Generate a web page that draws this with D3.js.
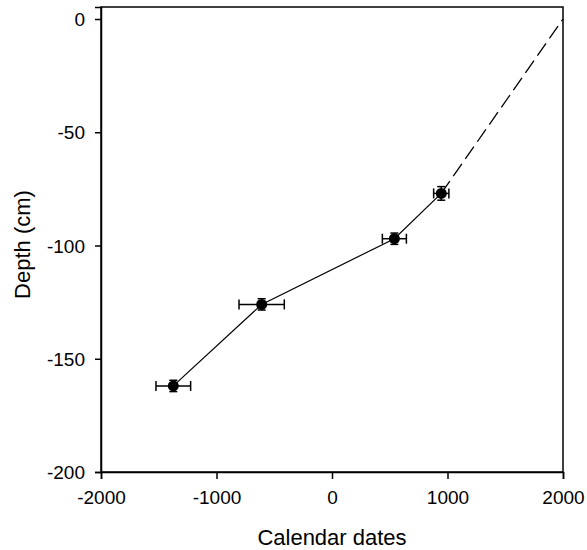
<!DOCTYPE html>
<html><head><meta charset="utf-8">
<script src="https://cdn.jsdelivr.net/npm/d3@7"></script>
<style>body{margin:0;background:#fff}svg{display:block}text{font-family:"Liberation Sans",Arial,sans-serif;fill:#000}</style>
</head><body>
<script>
const dates = [-1374, -609, 540, 946];
const depths = [-162, -126, -97, -77];
const dateErr = [150, 196, 104, 66];
const depthErr = [2.5, 2.5, 2.5, 3];
const extrapDates = [946, 2000];
const extrapDepths = [-77, 0];
const xTicks = [-2000, -1000, 0, 1000, 2000];
const yTicks = [0, -50, -100, -150, -200];

const W = 587, H = 550;
const m = {l: 101, r: 24, t: 7, b: 78};
const svg = d3.select("body").append("svg").attr("width", W).attr("height", H);
const x = d3.scaleLinear().domain([-2000, 2000]).range([m.l, W - m.r]);
const y = d3.scaleLinear().domain([-200, 5.3]).range([H - m.b, m.t]);
const fmt = d => String(d);

svg.append("rect").attr("x", x(-2000)).attr("y", y(5.3)).attr("width", x(2000) - x(-2000)).attr("height", y(-200) - y(5.3))
  .attr("fill", "none").attr("stroke", "#000").attr("stroke-width", 1.5);

const xa = svg.append("g").attr("transform", `translate(0,${y(-200)})`)
  .call(d3.axisBottom(x).tickValues(xTicks).tickSize(7).tickPadding(11).tickFormat(fmt));
const ya = svg.append("g").attr("transform", `translate(${x(-2000)},0)`)
  .call(d3.axisLeft(y).tickValues(yTicks).tickSize(6).tickPadding(10).tickFormat(fmt));
[xa, ya].forEach(a => {
  a.select(".domain").attr("stroke-width", 1.5);
  a.selectAll(".tick line").attr("stroke-width", 1.5);
  a.selectAll("text").style("font-size", "19px").style("font-family", "Liberation Sans, Arial, sans-serif");
});
xa.selectAll(".tick text").attr("dy", "0.72em");
ya.selectAll(".tick text").attr("dy", "0.35em");

svg.append("text").attr("x", x(0)).attr("y", 545).attr("text-anchor", "middle").style("font-size", "22px").text("Calendar dates");
svg.append("text").attr("transform", `translate(30,${(y(5.3) + y(-200)) / 2 + 5}) rotate(-90)`).attr("text-anchor", "middle")
  .style("font-size", "22px").text("Depth (cm)");

const pts = dates.map((d, i) => ({x: d, y: depths[i], ex: dateErr[i], ey: depthErr[i]}));
const line = d3.line().x(d => x(d.x)).y(d => y(d.y));
svg.append("path").datum(pts).attr("d", line).attr("fill", "none").attr("stroke", "#000").attr("stroke-width", 1.2);
svg.append("path").datum(extrapDates.map((d, i) => ({x: d, y: extrapDepths[i]}))).attr("d", line)
  .attr("fill", "none").attr("stroke", "#000").attr("stroke-width", 1.3).attr("stroke-dasharray", "15,6");

const g = svg.append("g").attr("stroke", "#000").attr("stroke-width", 1.5);
pts.forEach(p => {
  const cx = x(p.x), cy = y(p.y);
  g.append("line").attr("x1", x(p.x - p.ex)).attr("x2", x(p.x + p.ex)).attr("y1", cy).attr("y2", cy);
  g.append("line").attr("x1", x(p.x - p.ex)).attr("x2", x(p.x - p.ex)).attr("y1", cy - 5).attr("y2", cy + 5);
  g.append("line").attr("x1", x(p.x + p.ex)).attr("x2", x(p.x + p.ex)).attr("y1", cy - 5).attr("y2", cy + 5);
  g.append("line").attr("x1", cx).attr("x2", cx).attr("y1", y(p.y - p.ey)).attr("y2", y(p.y + p.ey));
  g.append("line").attr("x1", cx - 4).attr("x2", cx + 4).attr("y1", y(p.y - p.ey)).attr("y2", y(p.y - p.ey));
  g.append("line").attr("x1", cx - 4).attr("x2", cx + 4).attr("y1", y(p.y + p.ey)).attr("y2", y(p.y + p.ey));
});
svg.append("g").selectAll("circle").data(pts).join("circle")
  .attr("cx", d => x(d.x)).attr("cy", d => y(d.y)).attr("r", 5.5).attr("fill", "#000");
</script>
</body></html>
